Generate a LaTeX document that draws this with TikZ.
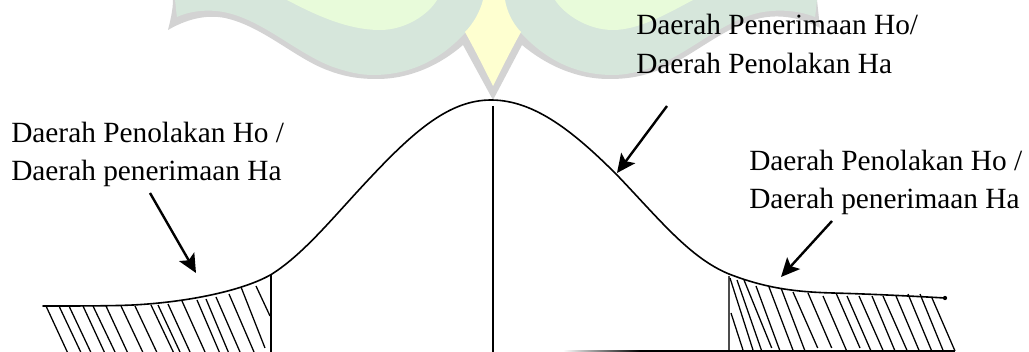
\documentclass[tikz,border=0pt]{standalone}
\usepackage{fontspec}
\setmainfont{Liberation Serif}
\usetikzlibrary{arrows.meta}
\definecolor{wmgray}{HTML}{D3D3D3}
\definecolor{wmband}{HTML}{D6E6DB}
\definecolor{wmlight}{HTML}{E8FBDA}
\definecolor{wmyellow}{HTML}{FEFFD0}
\tikzset{
  lbl/.style={anchor=base west,inner sep=0pt,font=\fontsize{22pt}{24pt}\selectfont},
  curveline/.style={line width=1.2pt,line cap=round,line join=round},
  hatch/.style={line width=0.95pt},
  stem/.style={line width=1.2pt},
  pointer/.style={line width=1.8pt,-{Stealth[length=14pt,width=13pt,inset=3pt]}}
}
\begin{document}
\begin{tikzpicture}[x=0.75pt,y=-0.75pt]
\useasboundingbox (0,0) rectangle (1029,352);
% watermark
\fill[wmgray] (173,0) .. controls (173,10) and (170,22) .. (168,30)
  .. controls (185,20) and (205,14) .. (225,18)
  .. controls (262,26) and (295,58) .. (327,70)
  .. controls (345,77) and (360,79) .. (377,79)
  .. controls (410,79) and (440,65) .. (463,45)
  -- (493,100) -- (522,45)
  .. controls (546,65) and (576,79) .. (609,79)
  .. controls (626,79) and (641,77) .. (659,70)
  .. controls (691,58) and (724,26) .. (761,18)
  .. controls (781,14) and (802,18) .. (820,28)
  -- (817,0) -- cycle;
\fill[wmband] (175,0) .. controls (176,6) and (176,12) .. (177,17)
  .. controls (192,10) and (212,9) .. (228,13)
  .. controls (265,22) and (298,54) .. (333,67)
  .. controls (348,72) and (360,75) .. (373,75)
  .. controls (410,75) and (440,60) .. (465,33)
  -- (521,33)
  .. controls (546,60) and (576,75) .. (613,75)
  .. controls (626,75) and (638,72) .. (653,67)
  .. controls (688,54) and (721,22) .. (758,13)
  .. controls (776,9) and (798,10) .. (815,17)
  .. controls (816,12) and (816,6) .. (817,0) -- cycle;
\fill[wmyellow] (483,0) .. controls (480,12) and (473,24) .. (465,32)
  .. controls (475,50) and (485,70) .. (493,86)
  .. controls (501,70) and (511,50) .. (521,32)
  .. controls (513,24) and (507,12) .. (505,0) -- cycle;
\fill[wmlight] (287,0) .. controls (310,12) and (345,30) .. (380,30)
  .. controls (405,30) and (428,15) .. (437,0) -- cycle;
\fill[wmlight] (555,0) .. controls (565,15) and (588,30) .. (613,30)
  .. controls (640,30) and (670,12) .. (693,0) -- cycle;
% labels
\node[lbl] (centerlabel) at (636,35) {Daerah Penerimaan Ho/};
\node[lbl] (centerlabelb) at (636,74) {Daerah Penolakan Ha};
\node[lbl] (leftlabel) at (11,143) {Daerah Penolakan Ho /};
\node[lbl] (leftlabelb) at (11,181) {Daerah penerimaan Ha};
\node[lbl] (rightlabel) at (749,171) {Daerah Penolakan Ho /};
\node[lbl] (rightlabelb) at (749,209) {Daerah penerimaan Ha};
% curve
\draw[curveline] (43,306) .. controls (80,306) and (110,306) .. (133,305)
  .. controls (190,302) and (245,290) .. (272,274)
  .. controls (305,253) and (335,215) .. (370,178)
  .. controls (415,130) and (450,100) .. (491,100)
  .. controls (535,100) and (575,133) .. (617,175)
  .. controls (660,220) and (690,258) .. (729,274)
  .. controls (765,288) and (795,292) .. (833,293)
  .. controls (870,294) and (910,296) .. (945,298);
% stems
\coordinate (midtop) at (493,106);
\coordinate (midbot) at (493,352);
\draw[stem] (midtop) -- (midbot);
\draw[stem] (271,275) -- (271,352);
\draw[stem,gray!60!black] (729,276) -- (729,352);
\shade[left color=white,right color=black] (563,350.5) rectangle (640,351.7);
\draw[line width=0.8pt] (640,351) -- (955,351);
% hatching left
\foreach \a/\b/\c/\d in {46/306/67.3/352,59/306/80.7/352,69/306/90.7/352,83/306/104.3/352,93/306/115/352,106/306/127.3/352,121/306/142.7/352,135/306/156.7/352,151/305/173.3/352,158/305/180/352,168/304/190/352,182/301/205/352,197/300/219.3/352,206/299/228.3/352,216/297/240/352,229/294/254/352,241/287/265/348,256/286/270/316}
  \draw[hatch] (\a,\b) -- (\c,\d);
% hatching right
\foreach \a/\b/\c/\d in {731/313/743.3/351,730/278/753.3/351,737/280/761.7/351,744/280/771.7/348,756/286/780/351,769/287/793.3/351,781/288/805/351,793/292/817.7/348,808/293/831.7/348,823/296/846.7/351,836/293/860/348,847/296/871/351,859/296/883.3/351,872/296/895/351,883/296/907.3/351,896/296/919.3/351,908/294/931.7/351,920/294/943.3/351,932/298/955/351}
  \draw[hatch] (\a,\b) -- (\c,\d);
\fill (945,298) circle (1.6pt);
% arrows
\coordinate (midfrom) at (667,106);
\coordinate (midto) at (617,173);
\coordinate (leftfrom) at (150,193);
\coordinate (leftto) at (196,273);
\coordinate (rightfrom) at (832,221);
\coordinate (rightto) at (781,277);
\draw[pointer] (midfrom) -- (midto);
\draw[pointer] (leftfrom) -- (leftto);
\draw[pointer] (rightfrom) -- (rightto);
\end{tikzpicture}
\end{document}
